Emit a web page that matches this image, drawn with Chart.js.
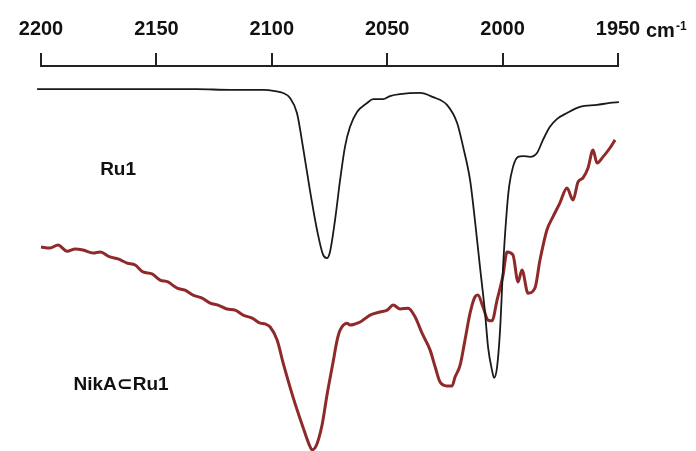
<!DOCTYPE html>
<html>
<head>
<meta charset="utf-8">
<script src="https://cdn.jsdelivr.net/npm/chart.js@4.4.0/dist/chart.umd.min.js"></script>
<style>
  html, body { margin: 0; padding: 0; background: #fff; }
  #wrap { width: 696px; height: 451px; position: relative; }
</style>
</head>
<body>
<div id="wrap"><canvas id="ir"></canvas></div>
<script>
// IR spectra, x in cm-1, y in arbitrary transmittance units (hidden axis)
const tickValues = [2200, 2150, 2100, 2050, 2000, 1950];

const ru1Wave = [2201.7, 2165.7, 2132.4, 2118.1, 2103.8, 2098.6, 2095.1, 2092.1, 2089.1, 2086.5,
  2083.5, 2080.4, 2077.8, 2076.1, 2074.8, 2072.6, 2070.4, 2068.3, 2066.1, 2063.0,
  2058.7, 2056.1, 2051.8, 2048.8, 2044.5, 2035.8, 2030.1, 2024.1, 2019.7, 2017.1,
  2014.1, 2012.0, 2009.8, 2007.6, 2006.3, 2004.6, 2003.7, 2002.4, 2001.1, 1999.8,
  1998.5, 1997.2, 1995.5, 1993.3, 1991.1, 1988.1, 1985.1, 1982.5, 1979.5, 1976.5,
  1972.1, 1966.5, 1959.1, 1953.5, 1949.6];
const ru1Values = [94.0, 94.0, 94.0, 93.8, 93.8, 93.5, 93.0, 91.7, 87.8, 79.0,
  67.8, 57.4, 51.0, 50.1, 51.7, 60.0, 70.4, 79.0, 84.2, 88.1,
  90.4, 91.4, 91.4, 92.2, 92.7, 93.0, 91.9, 89.9, 85.2, 79.0,
  70.4, 60.0, 47.8, 35.8, 27.0, 21.0, 19.0, 21.8, 31.4, 47.8,
  60.0, 68.6, 73.8, 76.4, 76.6, 76.4, 77.4, 80.8, 84.2, 86.2,
  87.8, 89.4, 89.9, 90.4, 90.6];

const nikaWave = [2200.0, 2196.1, 2192.6, 2188.7, 2185.2, 2181.8, 2177.4, 2174.4, 2170.1, 2166.6,
  2162.7, 2159.2, 2155.8, 2151.9, 2148.4, 2145.0, 2141.0, 2137.6, 2134.1, 2130.2,
  2126.7, 2123.3, 2119.4, 2115.9, 2112.4, 2108.5, 2105.0, 2102.9, 2100.7, 2097.7,
  2095.1, 2090.8, 2086.5, 2083.9, 2082.6, 2080.8, 2078.2, 2076.1, 2073.5, 2071.7,
  2070.4, 2067.4, 2066.1, 2063.9, 2061.7, 2057.4, 2053.1, 2050.0, 2047.4, 2044.4,
  2040.9, 2037.9, 2034.9, 2031.4, 2029.2, 2027.1, 2024.1, 2021.9, 2020.6, 2018.4,
  2016.3, 2014.1, 2012.0, 2010.7, 2008.5, 2006.3, 2004.6, 2002.4, 1999.8, 1998.1,
  1995.5, 1993.3, 1991.6, 1989.0, 1986.0, 1983.8, 1980.8, 1978.2, 1975.2, 1972.1,
  1969.5, 1967.3, 1965.2, 1963.0, 1960.8, 1959.1, 1956.5, 1953.5, 1951.3];
const nikaValues = [53.0, 52.7, 53.5, 51.9, 52.5, 52.2, 51.4, 51.7, 50.4, 49.9,
  48.8, 48.3, 46.5, 46.0, 44.4, 43.9, 42.3, 41.8, 40.5, 39.7,
  38.4, 37.9, 36.9, 36.6, 35.3, 34.5, 33.2, 33.0, 32.2, 28.8,
  22.9, 14.0, 6.2, 1.8, 0.3, 1.3, 6.8, 14.5, 22.9, 28.8,
  31.4, 33.2, 32.7, 33.0, 33.5, 35.3, 36.1, 36.6, 37.9, 36.9,
  37.1, 34.8, 30.6, 26.2, 21.8, 17.9, 16.9, 16.9, 19.2, 22.3,
  28.8, 35.8, 40.0, 40.5, 37.4, 34.0, 33.8, 39.2, 45.7, 51.7,
  50.9, 43.9, 47.0, 41.0, 42.3, 49.6, 57.4, 60.8, 64.4, 68.3,
  65.2, 69.9, 70.9, 73.5, 78.2, 74.8, 76.4, 78.7, 80.8];

const seriesLabels = ["Ru1", "NikA\u2282Ru1"];
const labelSpots = [[2166.6, 73.0], [2165.3, 17.1]];

const toPoints = (xs, ys) => xs.map((x, i) => ({ x: x, y: ys[i] }));

// writes the series names and the cm-1 unit next to the last tick
const textPlugin = {
  id: "texts",
  afterDraw(chart) {
    const ctx = chart.ctx;
    const sx = chart.scales.x;
    const sy = chart.scales.y;
    ctx.save();
    ctx.fillStyle = "#111";
    ctx.font = "bold 19px Arial, 'Liberation Sans', 'DejaVu Sans', sans-serif";
    ctx.textAlign = "center";
    ctx.textBaseline = "middle";
    seriesLabels.forEach((t, i) => {
      ctx.fillText(t, sx.getPixelForValue(labelSpots[i][0]), sy.getPixelForValue(labelSpots[i][1]));
    });
    // unit
    const x0 = sx.getPixelForValue(1950) + 28;
    ctx.textAlign = "left";
    ctx.textBaseline = "alphabetic";
    ctx.font = "bold 20px Arial, 'Liberation Sans', sans-serif";
    ctx.fillText("cm", x0, 37);
    const w = ctx.measureText("cm").width;
    ctx.font = "bold 12px Arial, 'Liberation Sans', sans-serif";
    ctx.fillText("-1", x0 + w + 1, 30);
    ctx.restore();
  }
};

new Chart(document.getElementById("ir"), {
  type: "line",
  data: {
    datasets: [
      {
        label: seriesLabels[0],
        data: toPoints(ru1Wave, ru1Values),
        borderColor: "#1a1a1a",
        borderWidth: 1.8,
        pointRadius: 0,
        cubicInterpolationMode: "monotone",
        clip: false
      },
      {
        label: seriesLabels[1],
        data: toPoints(nikaWave, nikaValues),
        borderColor: "#8e2a2a",
        borderWidth: 3,
        pointRadius: 0,
        cubicInterpolationMode: "monotone",
        clip: false
      }
    ]
  },
  options: {
    responsive: true,
    maintainAspectRatio: false,
    animation: false,
    layout: { padding: { left: 41, right: 78, top: 5, bottom: 0 } },
    plugins: { legend: { display: false }, tooltip: { enabled: false } },
    scales: {
      x: {
        type: "linear",
        position: "top",
        reverse: true,
        min: 1950,
        max: 2200,
        afterBuildTicks: (axis) => { axis.ticks = tickValues.map(v => ({ value: v })); },
        ticks: {
          color: "#111",
          font: { family: "Arial, 'Liberation Sans', sans-serif", size: 20, weight: "bold" },
          padding: 12,
          maxRotation: 0,
          callback: (v) => String(v)
        },
        grid: { drawOnChartArea: false, drawTicks: true, tickLength: 13, lineWidth: 2, color: "#222" },
        border: { display: true, color: "#222", width: 2 }
      },
      y: { display: false, min: 0, max: 100 }
    }
  },
  plugins: [textPlugin]
});
</script>
</body>
</html>
